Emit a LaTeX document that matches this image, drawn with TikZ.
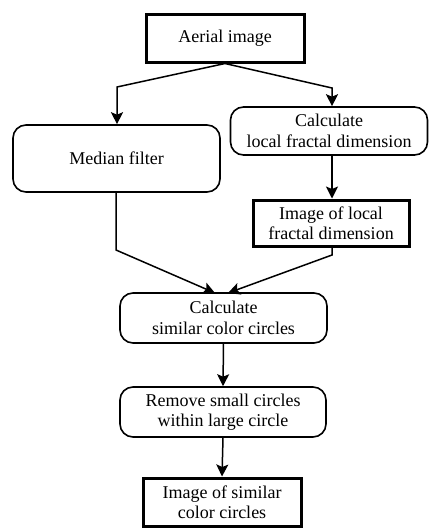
\documentclass[tikz,border=0pt]{standalone}
\usepackage{fontspec}
\setmainfont{Liberation Serif}
\usetikzlibrary{arrows.meta}
\begin{document}
\begin{tikzpicture}[x=1pt,y=-1pt,
  every node/.style={font=\fontsize{18}{20.5}\selectfont, align=center, inner sep=0pt},
  roundbox/.style={draw, line width=1.6pt, rounded corners=13pt},
  thickbox/.style={draw, line width=3pt},
  arr/.style={line width=1.5pt, -{Stealth[length=12pt,width=12pt,inset=2.5pt]}},
  ln/.style={line width=1.5pt}]
\useasboundingbox (0,0) rectangle (429,528);
\node[thickbox, minimum width=158pt, minimum height=48pt] (aerial) at (225,38) {Aerial image};
\node[roundbox, minimum width=207pt, minimum height=67pt] (median) at (116.5,158.5) {Median filter};
\node[roundbox, minimum width=197pt, minimum height=48pt] (calcfd) at (329,131) {Calculate\\local fractal dimension};
\node[thickbox, minimum width=156pt, minimum height=46pt] (imgfd) at (331,223) {Image of local\\fractal dimension};
\node[roundbox, minimum width=207pt, minimum height=50pt] (calcsc) at (223.5,318) {Calculate\\similar color circles};
\node[roundbox, minimum width=206pt, minimum height=50pt] (remove) at (223,412) {Remove small circles\\within large circle};
\node[thickbox, minimum width=158pt, minimum height=48pt] (final) at (222,502) {Image of similar\\color circles};
\coordinate (a1) at (117,87);
\coordinate (a2) at (332,88);
\coordinate (m1) at (116,250);
\coordinate (f1) at (332,255);
\coordinate (t1) at (215,293);
\coordinate (t2) at (228,293);
\draw[arr] (aerial.south) -- (a1) -- (a1 |- median.north);
\draw[arr] (aerial.south) -- (a2) -- (a2 |- calcfd.north);
\draw[arr] (a2 |- calcfd.south) -- (a2 |- imgfd.north);
\draw[arr] (m1 |- median.south) -- (m1) -- (t1);
\draw[arr] (f1 |- imgfd.south) -- (f1) -- (t2);
\draw[arr] (calcsc.south) -- (remove.north);
\draw[arr] (remove.south) -- (final.north);
\end{tikzpicture}
\end{document}
